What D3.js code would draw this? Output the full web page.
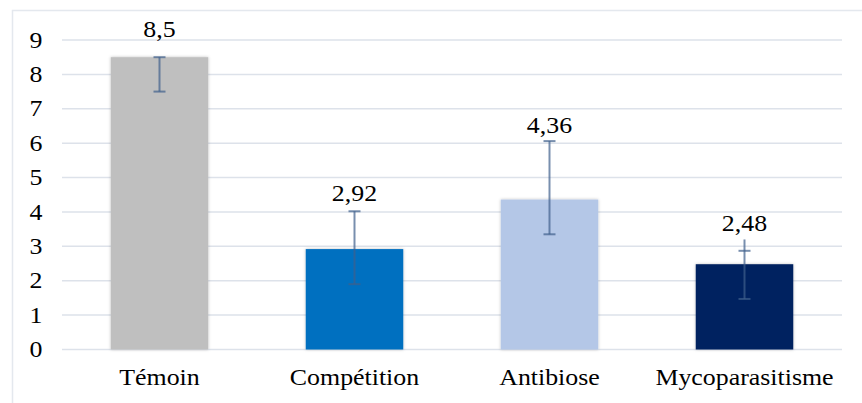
<!DOCTYPE html>
<html><head><meta charset="utf-8">
<script src="https://cdn.jsdelivr.net/npm/d3@7"></script>
<style>
html,body{margin:0;padding:0;background:#fff;}
svg text{font-family:"Liberation Serif","Times New Roman","DejaVu Serif",serif;fill:#000;}
</style>
</head><body>
<svg id="c" width="862" height="403"></svg>
<script>
const categories = ["Témoin", "Compétition", "Antibiose", "Mycoparasitisme"];
const values = [8.5, 2.92, 4.36, 2.48];
const labels = ["8,5", "2,92", "4,36", "2,48"];
const errLow = [7.5, 1.9, 3.35, 1.47];
const errHigh = [8.5, 4.02, 6.06, 3.2];
const capHigh = [8.5, 4.02, 6.06, 2.87];
const labelAt = [9.1, 4.32, 6.3, 3.45];
const colors = ["#bfbfbf", "#0070c0", "#b4c7e7", "#002060"];
const yTicks = [0,1,2,3,4,5,6,7,8,9];

const svg = d3.select("#c");
const x = d3.scaleBand().domain(categories).range([62, 842]).paddingInner(0.5).paddingOuter(0.25);
const y = d3.scaleLinear().domain([0, 9]).range([349.5, 40]);
const FS = 22.5, SX = 1.15;
const place = (px, py) => `translate(${px},${py}) scale(${SX},1)`;

const defs = svg.append("defs");
const f = defs.append("filter").attr("id","sh").attr("x","-10%").attr("y","-10%").attr("width","120%").attr("height","120%");
f.append("feDropShadow").attr("dx",0).attr("dy",0).attr("stdDeviation",1.5).attr("flood-color","#000").attr("flood-opacity",0.25);

// border
svg.append("path").attr("d","M12.5,403 V10.5 H862").attr("fill","none").attr("stroke","#e4e8ee").attr("stroke-width",1.5);

// grid
svg.append("g").selectAll("line").data(yTicks).join("line")
  .attr("x1",62).attr("x2",842)
  .attr("y1",d=>y(d)).attr("y2",d=>y(d))
  .attr("stroke","#dde2ea").attr("stroke-width",1.5);

// y tick labels
svg.append("g").selectAll("text").data(yTicks).join("text")
  .attr("transform",d=>place(36, y(d))).attr("dy","0.34em")
  .attr("text-anchor","middle")
  .style("font-size",FS+"px").text(d=>d);

// bars
svg.append("g").selectAll("rect").data(values).join("rect")
  .attr("x",(d,i)=>x(categories[i]))
  .attr("width",x.bandwidth())
  .attr("y",d=>y(d)).attr("height",d=>y(0)-y(d))
  .attr("fill",(d,i)=>colors[i]).attr("filter","url(#sh)");

// error bars
const eb = svg.append("g").attr("stroke","#3f5f8c").attr("stroke-opacity",0.7).attr("stroke-width",2);
categories.forEach((c,i)=>{
  const cx = x(c) + x.bandwidth()/2;
  eb.append("line").attr("x1",cx).attr("x2",cx).attr("y1",y(errLow[i])).attr("y2",y(errHigh[i]));
  eb.append("line").attr("x1",cx-6).attr("x2",cx+6).attr("y1",y(errLow[i])).attr("y2",y(errLow[i]));
  eb.append("line").attr("x1",cx-6).attr("x2",cx+6).attr("y1",y(capHigh[i])).attr("y2",y(capHigh[i]));
});

// value labels
svg.append("g").selectAll("text").data(values).join("text")
  .attr("transform",(d,i)=>place(x(categories[i])+x.bandwidth()/2, y(labelAt[i])))
  .attr("text-anchor","middle")
  .style("font-size",FS+"px").text((d,i)=>labels[i]);

// category labels
svg.append("g").selectAll("text").data(categories).join("text")
  .attr("transform",d=>place(x(d)+x.bandwidth()/2, 385))
  .attr("text-anchor","middle")
  .style("font-size",FS+"px").text(d=>d);
</script>
</body></html>
